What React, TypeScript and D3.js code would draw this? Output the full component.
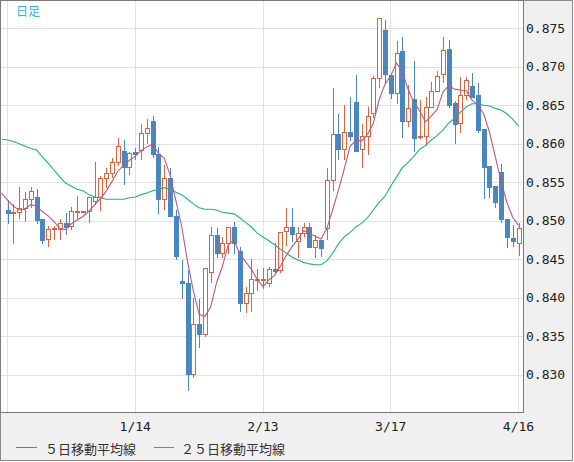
import { useMemo } from "react"
import * as d3 from "d3"

// OHLC for each trading day
const opens = [
  0.8514, 0.851, 0.8511, 0.8517, 0.8528, 0.8531, 0.8502, 0.8476, 0.8489, 0.8489,
  0.8497, 0.8493, 0.8512, 0.8512, 0.8513, 0.8526, 0.8531, 0.8556, 0.8562, 0.8576,
  0.8591, 0.857, 0.8589, 0.8592, 0.8614, 0.863, 0.8587, 0.8528, 0.8556, 0.8506,
  0.8422, 0.8419, 0.8301, 0.8366, 0.8353, 0.8433, 0.8482, 0.8458, 0.8471, 0.8492,
  0.8461, 0.8393, 0.8406, 0.8424, 0.8424, 0.8419, 0.8437, 0.8436, 0.8487, 0.8492,
  0.8474, 0.8484, 0.8492, 0.8466, 0.8475, 0.8491, 0.8553, 0.8613, 0.8593, 0.8615,
  0.8654, 0.8593, 0.861, 0.864, 0.8686, 0.8748, 0.8689, 0.8666, 0.8721, 0.863,
  0.8658, 0.8609, 0.861, 0.8648, 0.8669, 0.8691, 0.8723, 0.8653, 0.8627, 0.8663,
  0.8675, 0.8663, 0.8619, 0.8571, 0.8545, 0.8564, 0.8502, 0.8478, 0.8471,
]
const highs = [
  0.8527, 0.8522, 0.8544, 0.8537, 0.8544, 0.8541, 0.8502, 0.8493, 0.8493, 0.8502,
  0.851, 0.8518, 0.8532, 0.8513, 0.8531, 0.8576, 0.8558, 0.8569, 0.8582, 0.8608,
  0.8605, 0.8589, 0.8595, 0.8626, 0.8632, 0.8636, 0.8596, 0.8572, 0.8569, 0.8514,
  0.8449, 0.8436, 0.84, 0.8398, 0.8439, 0.8492, 0.8491, 0.8479, 0.8492, 0.8498,
  0.8466, 0.8414, 0.845, 0.8437, 0.8439, 0.844, 0.8471, 0.8485, 0.8517, 0.8517,
  0.8492, 0.8497, 0.8497, 0.8482, 0.8475, 0.8569, 0.8673, 0.8639, 0.865, 0.8661,
  0.8689, 0.8626, 0.8648, 0.8688, 0.8763, 0.8761, 0.8689, 0.8734, 0.8739, 0.8676,
  0.8708, 0.8657, 0.8661, 0.868, 0.8695, 0.8739, 0.8735, 0.8656, 0.8687, 0.8687,
  0.8692, 0.8679, 0.8619, 0.8571, 0.8545, 0.8574, 0.8502, 0.8495, 0.8497,
]
const lows = [
  0.8497, 0.8471, 0.8504, 0.85, 0.8518, 0.8497, 0.8471, 0.8467, 0.8476, 0.8476,
  0.8483, 0.8489, 0.8504, 0.8512, 0.8498, 0.8522, 0.8514, 0.8544, 0.8557, 0.8572,
  0.8548, 0.8561, 0.858, 0.858, 0.8601, 0.8583, 0.851, 0.8515, 0.8506, 0.845,
  0.84, 0.828, 0.8297, 0.8336, 0.835, 0.842, 0.8453, 0.8453, 0.8458, 0.8458,
  0.8383, 0.8381, 0.8383, 0.841, 0.8413, 0.8415, 0.8433, 0.8433, 0.8469, 0.8474,
  0.8453, 0.848, 0.8466, 0.8453, 0.8454, 0.8476, 0.854, 0.858, 0.858, 0.8605,
  0.8591, 0.857, 0.8587, 0.8635, 0.8674, 0.868, 0.866, 0.8653, 0.8609, 0.8623,
  0.8591, 0.8608, 0.8599, 0.8648, 0.8669, 0.868, 0.8648, 0.8601, 0.8615, 0.8658,
  0.8661, 0.8615, 0.853, 0.8531, 0.8518, 0.8498, 0.8466, 0.8467, 0.8456,
]
const closes = [
  0.851, 0.8511, 0.8517, 0.8528, 0.8539, 0.8501, 0.8475, 0.8489, 0.849, 0.8497,
  0.8492, 0.8513, 0.8513, 0.8513, 0.8531, 0.8531, 0.8556, 0.8562, 0.8576, 0.8597,
  0.857, 0.8588, 0.8587, 0.8614, 0.8621, 0.8587, 0.8528, 0.8556, 0.8506, 0.8454,
  0.8419, 0.8301, 0.8366, 0.8353, 0.8439, 0.8482, 0.8458, 0.8471, 0.8492, 0.8471,
  0.8393, 0.8406, 0.8424, 0.8425, 0.8425, 0.8437, 0.8435, 0.8485, 0.8492, 0.8483,
  0.8484, 0.8492, 0.8466, 0.8475, 0.8465, 0.8553, 0.8613, 0.8593, 0.8615, 0.861,
  0.8591, 0.861, 0.8636, 0.8686, 0.8763, 0.8691, 0.8666, 0.8718, 0.863, 0.8647,
  0.8608, 0.861, 0.8648, 0.8669, 0.8688, 0.8722, 0.865, 0.8626, 0.8663, 0.8683,
  0.8661, 0.8618, 0.857, 0.8544, 0.8524, 0.8502, 0.8479, 0.8474, 0.8491,
]

// 5-day MA values before enough closes are visible (day -1 .. day 3)
const ma5Lead = [0.8536, 0.8527, 0.8519, 0.8514, 0.8515]

// 25-day MA (day -1 .. last day)
const ma25 = [
  0.8606, 0.8605, 0.8603, 0.86, 0.8597, 0.8594, 0.8592, 0.8583, 0.8575, 0.8566,
  0.8557, 0.8549, 0.8545, 0.8541, 0.8539, 0.8534, 0.8531, 0.853, 0.8528, 0.8528,
  0.8528, 0.8528, 0.853, 0.8531, 0.8534, 0.8536, 0.8539, 0.8541, 0.8543, 0.8541,
  0.8537, 0.8534, 0.8528, 0.8522, 0.8517, 0.8515, 0.8515, 0.8514, 0.8511, 0.851,
  0.8509, 0.8504, 0.8498, 0.8492, 0.8484, 0.8479, 0.8474, 0.8469, 0.8463, 0.8458,
  0.8453, 0.8449, 0.8446, 0.8444, 0.8443, 0.8443, 0.8448, 0.8458, 0.847, 0.8479,
  0.8485, 0.8492, 0.8497, 0.8504, 0.8514, 0.8524, 0.8532, 0.8545, 0.8557, 0.8569,
  0.8576, 0.8584, 0.8593, 0.8598, 0.8605, 0.8611, 0.8618, 0.8627, 0.8633, 0.8641,
  0.8648, 0.8652, 0.8652, 0.865, 0.8649, 0.8646, 0.8644, 0.8639, 0.8632, 0.8623,
]

const yTicks = [0.83, 0.835, 0.84, 0.845, 0.85, 0.855, 0.86, 0.865, 0.87, 0.875]
const xTickIndex = [0, 22, 44, 66, 88]
const xTickLabels = ["", "1/14", "2/13", "3/17", "4/16"]

const UP = "#d8653f"
const DOWN = "#4a86bf"
const MA5_COLOR = "#b45a86"
const MA25_COLOR = "#25b27a"
const GRID = "#e2e2e2"
const MONO = "'DejaVu Sans Mono', monospace"
const JP = "'Noto Sans CJK JP', sans-serif"

export default function App() {
  const W = 574
  const H = 462
  const plotRight = 523
  const plotBottom = 412

  const x = d3.scaleLinear().domain([0, 88]).range([7.5, 518.5])
  const y = d3.scaleLinear().domain([0.875, 0.83]).range([28.3, 374.8])

  const ma5 = useMemo(() => {
    const computed = closes.slice(4).map((_, k) => d3.mean(closes.slice(k, k + 5)) as number)
    return [...ma5Lead, ...computed]
  }, [])

  const line = d3
    .line<number>()
    .x((_, i) => x(i - 1))
    .y((d) => y(d))

  return (
    <svg
      width={W}
      height={H}
      style={{ position: "absolute", left: 0, top: 0, display: "block" }}
      shapeRendering="auto"
    >
      <defs>
        <clipPath id="plot">
          <rect x={1} y={1} width={plotRight - 1} height={plotBottom - 1} />
        </clipPath>
      </defs>

      {/* outer frame */}
      <rect x={0.5} y={0.5} width={572} height={460} fill="#f0f0f0" stroke="#8a8a8a" />
      {/* plot area */}
      <rect x={0.5} y={0.5} width={plotRight} height={plotBottom} fill="#ffffff" stroke="#7a7a7a" />

      <g clipPath="url(#plot)">
        {/* grid */}
        {yTicks.map((t) => (
          <line
            key={"h" + t}
            x1={1}
            x2={plotRight}
            y1={Math.round(y(t)) + 0.5}
            y2={Math.round(y(t)) + 0.5}
            stroke={GRID}
            shapeRendering="crispEdges"
          />
        ))}
        {xTickIndex.map((i) => (
          <line
            key={"v" + i}
            x1={Math.floor(x(i)) + 0.5}
            x2={Math.floor(x(i)) + 0.5}
            y1={1}
            y2={plotBottom}
            stroke={GRID}
            shapeRendering="crispEdges"
          />
        ))}

        {/* candles */}
        {closes.map((c, i) => {
          const o = opens[i]
          const up = c >= o
          const cx = Math.round(x(i))
          const top = Math.round(y(Math.max(o, c)))
          const bot = Math.round(y(Math.min(o, c)))
          const color = up ? UP : DOWN
          return (
            <g key={i} shapeRendering="crispEdges">
              <line
                x1={cx + 0.5}
                x2={cx + 0.5}
                y1={Math.round(y(highs[i]))}
                y2={Math.round(y(lows[i])) + 1}
                stroke={color}
              />
              {up ? (
                <rect
                  x={cx - 1.5}
                  y={top + 0.5}
                  width={4}
                  height={Math.max(1, bot - top)}
                  fill="#ffffff"
                  stroke={color}
                />
              ) : (
                <rect x={cx - 2} y={top} width={5} height={Math.max(2, bot - top + 1)} fill={color} />
              )}
            </g>
          )
        })}

        {/* moving averages */}
        <path d={line(ma25) ?? ""} fill="none" stroke={MA25_COLOR} strokeWidth={1.1} />
        <path d={line(ma5) ?? ""} fill="none" stroke={MA5_COLOR} strokeWidth={1.1} />

        <text x={16} y={16} fontFamily={JP} fontSize={12} fill="#3aaee0">
          日足
        </text>
      </g>

      {/* right axis labels */}
      {yTicks.map((t) => (
        <text
          key={"yl" + t}
          x={526}
          y={y(t)}
          dominantBaseline="central"
          fontFamily={MONO}
          fontSize={13}
          fill="#222"
        >
          {t.toFixed(3)}
        </text>
      ))}

      {/* bottom axis labels */}
      {xTickIndex.map((i, k) => (
        <text
          key={"xl" + i}
          x={x(i)}
          y={426}
          textAnchor="middle"
          dominantBaseline="central"
          fontFamily={MONO}
          fontSize={13}
          fill="#222"
        >
          {xTickLabels[k]}
        </text>
      ))}

      {/* legend */}
      <line x1={16} x2={37} y1={447.5} y2={447.5} stroke={MA5_COLOR} />
      <text x={45} y={448} dominantBaseline="central" fontFamily={JP} fontSize={13} fill="#333">
        ５日移動平均線
      </text>
      <line x1={154} x2={174} y1={447.5} y2={447.5} stroke={MA25_COLOR} />
      <text x={181} y={448} dominantBaseline="central" fontFamily={JP} fontSize={13} fill="#333">
        ２５日移動平均線
      </text>
    </svg>
  )
}
